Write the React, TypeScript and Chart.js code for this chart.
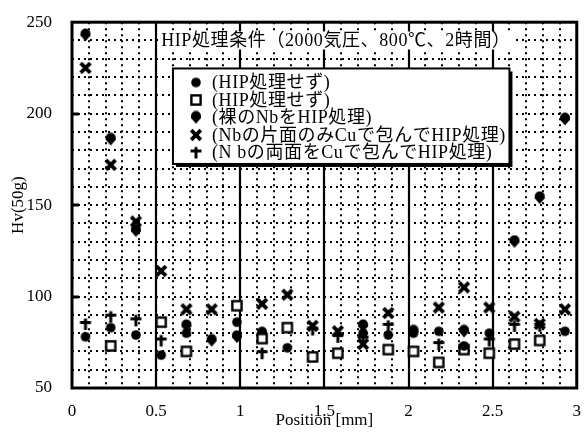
import React, { useEffect, useRef } from 'react';
import { Chart, registerables } from 'chart.js';

Chart.register(...registerables);

// ---------- data ----------
const positions = [0.08, 0.23, 0.38, 0.53, 0.68, 0.83, 0.98, 1.13, 1.28, 1.43, 1.58, 1.73, 1.88, 2.03, 2.18, 2.33, 2.48, 2.63, 2.78, 2.93];

const seriesLabels = [
  '(HIP処理せず)',
  '(HIP処理せず)',
  '(裸のNbをHIP処理)',
  '(Nbの片面のみCuで包んでHIP処理)',
  '(N bの両面をCuで包んでHIP処理)',
];

const hvCircle = [78, 83, 79, 68, 80, null, 86, null, 72, null, null, 80, 79, 80, 81, 73, 80, null, null, 81];
const hvSquare = [null, 73, null, 86, 70, null, 95, 77, 83, 67, 69, null, 71, 70, 64, 71, 69, 74, 76, null];
const hvBareNb = [243, 186, 136, null, 84, 76, 78, 80, null, null, null, 84, null, 81, null, 81, null, 130, 154, 197];
const hvOneSideCu = [225, 172, 141, 114, 93, 93, null, 96, 101, 84, 81, 74, 91, null, 94, 105, 94, 89, 85, 93];
const hvBothSideCu = [85, 89, 87, 76, null, null, null, 69, null, 82, 78, 77, 84, null, 74, null, 76, 84, 84, null];

const conditionText = 'HIP処理条件（2000気圧、800℃、2時間）';
const xTickValues = [0, 0.5, 1, 1.5, 2, 2.5, 3];
const yTickValues = [50, 100, 150, 200, 250];
const xAxisTitle = 'Position [mm]';
const yAxisTitle = 'Hv(50g)';

// ---------- markers ----------
type MarkerKind = 'circle' | 'square' | 'shield' | 'x' | 'plus';
const markerKinds: MarkerKind[] = ['circle', 'square', 'shield', 'x', 'plus'];

function makeMarker(kind: MarkerKind): HTMLCanvasElement {
  const c = document.createElement('canvas');
  c.width = 14;
  c.height = 14;
  const g = c.getContext('2d')!;
  g.fillStyle = '#000';
  g.strokeStyle = '#000';
  g.lineCap = 'butt';
  if (kind === 'circle') {
    g.beginPath();
    g.arc(7, 7, 4.8, 0, Math.PI * 2);
    g.fill();
  } else if (kind === 'square') {
    g.lineWidth = 2.4;
    g.fillStyle = '#fff';
    g.fillRect(2.5, 2.5, 9, 9);
    g.strokeRect(2.4, 2.4, 9.2, 9.2);
  } else if (kind === 'shield') {
    g.beginPath();
    g.arc(7, 5.5, 5, Math.PI, 0);
    g.lineTo(12, 7.5);
    g.lineTo(7, 13.2);
    g.lineTo(2, 7.5);
    g.closePath();
    g.fill();
  } else if (kind === 'x') {
    g.lineWidth = 3.8;
    g.beginPath();
    g.moveTo(2.2, 2.2);
    g.lineTo(11.8, 11.8);
    g.moveTo(11.8, 2.2);
    g.lineTo(2.2, 11.8);
    g.stroke();
  } else {
    g.lineWidth = 3;
    g.beginPath();
    g.moveTo(7, 1.5);
    g.lineTo(7, 13);
    g.moveTo(1.5, 5.5);
    g.lineTo(12.5, 5.5);
    g.stroke();
  }
  return c;
}

const FONT_FAMILY = "'Liberation Serif', 'Noto Sans CJK JP', serif";

function toPoints(values: (number | null)[]) {
  const pts: { x: number; y: number }[] = [];
  values.forEach((v, i) => {
    if (v !== null) pts.push({ x: positions[i], y: v });
  });
  return pts;
}

const backgroundPlugin = {
  id: 'scanGrid',
  beforeDatasetsDraw(chart: any) {
    const { ctx, chartArea, scales } = chart;
    const { left, right, top, bottom } = chartArea;
    const x = scales.x;
    const y = scales.y;
    ctx.save();
    ctx.strokeStyle = '#000';
    // horizontal dotted lines every 10
    ctx.lineWidth = 2;
    ctx.setLineDash([2, 4]);
    for (let v = 60; v < 250; v += 10) {
      const py = Math.round(y.getPixelForValue(v));
      ctx.beginPath();
      ctx.moveTo(left, py);
      ctx.lineTo(right, py);
      ctx.stroke();
    }
    // vertical dotted minor lines every 0.1
    for (let i = 1; i < 30; i++) {
      if (i % 5 === 0) continue;
      const px = Math.round(x.getPixelForValue(i / 10));
      ctx.beginPath();
      ctx.moveTo(px, top);
      ctx.lineTo(px, bottom);
      ctx.stroke();
    }
    ctx.setLineDash([]);
    // vertical solid major lines
    ctx.lineWidth = 2.2;
    xTickValues.slice(1, -1).forEach((v) => {
      const px = Math.round(x.getPixelForValue(v));
      ctx.beginPath();
      ctx.moveTo(px, top);
      ctx.lineTo(px, bottom);
      ctx.stroke();
    });
    // short inward ticks on y axis
    ctx.lineWidth = 3;
    yTickValues.slice(1, -1).forEach((v) => {
      const py = Math.round(y.getPixelForValue(v));
      ctx.beginPath();
      ctx.moveTo(left, py);
      ctx.lineTo(left + 7, py);
      ctx.stroke();
    });
    // frame
    ctx.lineWidth = 3;
    ctx.strokeRect(left, top, right - left, bottom - top);

    // condition text with white background
    ctx.font = `18px ${FONT_FAMILY}`;
    (ctx as any).letterSpacing = '0.6px';
    ctx.textBaseline = 'middle';
    ctx.textAlign = 'left';
    const tx = x.getPixelForValue(0.53);
    const ty = y.getPixelForValue(240);
    const tw = ctx.measureText(conditionText).width;
    ctx.fillStyle = '#fff';
    ctx.fillRect(tx - 2, ty - 9, tw + 6, 18);
    ctx.fillStyle = '#000';
    ctx.fillText(conditionText, tx, ty + 1);

    // legend box
    const bx1 = x.getPixelForValue(0.6);
    const bx2 = x.getPixelForValue(2.6);
    const by1 = y.getPixelForValue(224.7);
    const by2 = y.getPixelForValue(172.5);
    ctx.fillStyle = '#000';
    ctx.fillRect(bx1 + 3, by1 + 3, bx2 - bx1, by2 - by1);
    ctx.fillStyle = '#fff';
    ctx.fillRect(bx1, by1, bx2 - bx1, by2 - by1);
    ctx.lineWidth = 2;
    ctx.strokeRect(bx1, by1, bx2 - bx1, by2 - by1);
    ctx.fillStyle = '#000';
    ctx.font = `18px ${FONT_FAMILY}`;
    (ctx as any).letterSpacing = '0.6px';
    chart.data.datasets.forEach((ds: any, i: number) => {
      const ly = by1 + 14 + i * 17.5;
      const img = ds.pointStyle as HTMLCanvasElement;
      ctx.drawImage(img, bx1 + 23 - img.width / 2, ly - img.height / 2);
      ctx.fillText(ds.label, bx1 + 39, ly + 1);
    });
    (ctx as any).letterSpacing = '0px';
    ctx.restore();
  },
};

export default function App() {
  const ref = useRef<HTMLCanvasElement | null>(null);
  useEffect(() => {
    if (!ref.current) return;
    const allValues = [hvCircle, hvSquare, hvBareNb, hvOneSideCu, hvBothSideCu];
    const chart = new Chart(ref.current, {
      type: 'scatter',
      data: {
        datasets: allValues.map((vals, i) => ({
          label: seriesLabels[i],
          data: toPoints(vals),
          pointStyle: makeMarker(markerKinds[i]) as any,
          pointRadius: 6,
          backgroundColor: '#000',
          borderColor: '#000',
          showLine: false,
        })),
      },
      options: {
        animation: false,
        responsive: true,
        maintainAspectRatio: false,
        layout: { padding: { top: 22, right: 1, left: 0, bottom: 0 } },
        plugins: {
          legend: { display: false },
          tooltip: { enabled: false },
        },
        scales: {
          x: {
            type: 'linear',
            min: 0,
            max: 3,
            grid: { display: false },
            border: { display: false },
            afterBuildTicks: (scale: any) => {
              scale.ticks = xTickValues.map((v) => ({ value: v }));
            },
            afterFit: (scale: any) => {
              scale.height = 53;
            },
            ticks: {
              color: '#000',
              padding: 5,
              maxRotation: 0,
              autoSkip: false,
              font: { family: FONT_FAMILY, size: 17 },
              callback: (v: any) => String(v),
            },
            title: {
              display: true,
              text: xAxisTitle,
              color: '#000',
              font: { family: FONT_FAMILY, size: 17 },
              padding: { top: 0, bottom: 10 },
            },
          },
          y: {
            type: 'linear',
            min: 50,
            max: 250,
            grid: { display: false },
            border: { display: false },
            afterBuildTicks: (scale: any) => {
              scale.ticks = yTickValues.map((v) => ({ value: v }));
            },
            afterFit: (scale: any) => {
              scale.width = 72;
            },
            ticks: {
              color: '#000',
              padding: 12,
              autoSkip: false,
              font: { family: FONT_FAMILY, size: 17 },
              callback: (v: any) => String(v),
            },
            title: {
              display: true,
              text: yAxisTitle,
              color: '#000',
              font: { family: FONT_FAMILY, size: 17 },
              padding: { top: 8, bottom: 0 },
            },
          },
        },
      },
      plugins: [backgroundPlugin],
    });
    return () => chart.destroy();
  }, []);

  return (
    <div style={{ position: 'fixed', left: 0, top: 0, width: 586, height: 441, background: '#fff' }}>
      <canvas ref={ref} />
    </div>
  );
}
